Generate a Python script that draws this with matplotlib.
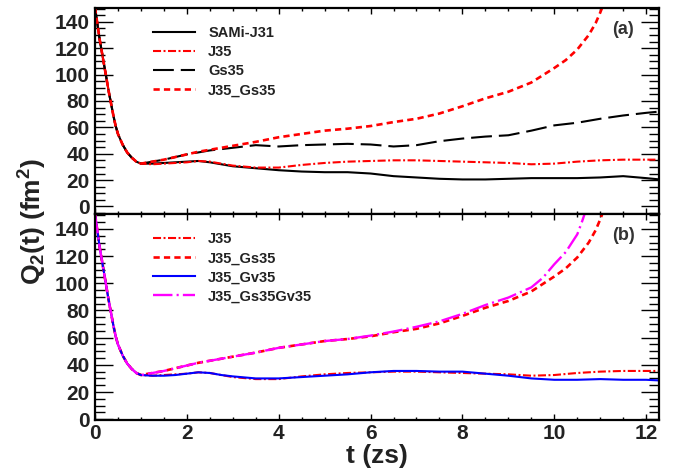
import matplotlib

matplotlib.use("Agg")
import matplotlib.pyplot as plt
from matplotlib.ticker import MultipleLocator

plt.rcParams["font.family"] = ["Liberation Sans", "DejaVu Sans"]
plt.rcParams["font.weight"] = "bold"
plt.rcParams["mathtext.fontset"] = "custom"
plt.rcParams["mathtext.rm"] = "Liberation Sans:bold"
plt.rcParams["mathtext.it"] = "Liberation Sans:bold"
plt.rcParams["mathtext.bf"] = "Liberation Sans:bold"
plt.rcParams["lines.scale_dashes"] = False

# quadrupole moment Q2(t) in fm^2 against time in zs
t_early = [0.0, 0.05, 0.1, 0.15, 0.2, 0.25, 0.3, 0.35, 0.4, 0.45, 0.5,
           0.6, 0.7, 0.8, 0.9, 1.0]
q_early = [151, 139, 127, 117, 107, 97, 87, 78, 69, 61, 55,
           47, 41, 37, 34, 32.5]

t_late = [1.25, 1.5, 1.75, 2.0, 2.25, 2.5, 2.75, 3.0, 3.5, 4.0, 4.5, 5.0,
          5.5, 6.0, 6.5, 7.0, 7.5, 8.0, 8.5, 9.0, 9.5, 10.0, 10.5, 11.0,
          11.5, 12.0, 12.3]
q_sami_j31 = [32.5, 33, 33.5, 34, 34.5, 33.5, 32, 30.5, 29, 27.5, 26.5, 26,
              26, 25, 23, 22, 21, 20.5, 20.5, 21, 21.5, 21.5, 21.5, 22,
              23, 21.5, 20.5]
q_j35 = [32, 32.5, 33, 33.5, 34.5, 34, 32.5, 31, 29.5, 29.5, 31.5, 33,
         34, 34.5, 35, 35, 34.5, 34, 33.5, 33, 32, 32.5, 34, 35,
         35.5, 35.5, 35.5]
q_gs35 = [34, 35.5, 37.5, 39.5, 41, 42.5, 43.5, 44.5, 46.5, 45.5, 46.5, 47,
          47.5, 47, 45.5, 46.5, 49.5, 51.5, 53, 54, 57.5, 61.5, 63.5, 66.5,
          69, 71, 72]
q_j35_gv35 = [32, 32, 32.5, 33.5, 34.5, 34, 32.5, 31.5, 30, 30, 31, 32,
              33, 34.5, 35.5, 35.5, 35, 35, 33.5, 32, 30, 29, 29, 29.5,
              29, 29, 28.5]

t_j35_gs35 = [1.25, 1.5, 1.75, 2.0, 2.25, 2.5, 2.75, 3.0, 3.5, 4.0, 4.5,
              5.0, 5.5, 6.0, 6.5, 7.0, 7.5, 8.0, 8.5, 9.0, 9.5, 10.0,
              10.25, 10.5, 10.75, 10.9, 11.0, 11.1]
q_j35_gs35 = [34, 35.5, 37.5, 39.5, 41.5, 43, 44.5, 46, 49, 52.5, 55,
              57.5, 59, 61, 64, 66.5, 70.5, 76, 82, 87, 94, 105,
              111, 119, 130, 139, 147, 156]

t_j35_gs35gv35 = [1.25, 1.5, 1.75, 2.0, 2.25, 2.5, 2.75, 3.0, 3.5, 4.0, 4.5,
                  5.0, 5.5, 6.0, 6.5, 7.0, 7.5, 8.0, 8.5, 9.0, 9.5, 9.75,
                  10.0, 10.25, 10.5, 10.6, 10.7]
q_j35_gs35gv35 = [34, 35.5, 37.5, 39.5, 41.5, 43, 44.5, 46, 49, 52.5, 55,
                  57.5, 59, 61.5, 64.5, 68, 72, 77.5, 84, 89.5, 97, 104,
                  114, 123, 136, 145, 155]

TEXT = "#222222"
RED = "#ff0000"
MAGENTA = "#ff00ff"
BLUE = "#0000ff"

styles = {
    "SAMi-J31": dict(color="black", lw=1.5, ls="-"),
    "J35": dict(color=RED, lw=1.5, ls=(0, (5.8, 1.8, 1.4, 1.8))),
    "Gs35": dict(color="black", lw=1.5, ls=(0, (15, 5))),
    "J35_Gs35": dict(color=RED, lw=1.9, ls=(0, (4.5, 3))),
    "J35_Gv35": dict(color=BLUE, lw=1.5, ls="-"),
    "J35_Gs35Gv35": dict(color=MAGENTA, lw=1.7, ls=(0, (14, 3, 1.5, 3))),
}


def series(t_tail, q_tail):
    return t_early + t_tail, q_early + q_tail


def style_axes(ax, ylim):
    ax.set_xlim(0, 12.28)
    ax.set_ylim(*ylim)
    ax.xaxis.set_major_locator(MultipleLocator(2))
    ax.xaxis.set_minor_locator(MultipleLocator(0.5))
    ax.yaxis.set_major_locator(MultipleLocator(20))
    ax.yaxis.set_minor_locator(MultipleLocator(5))
    ax.tick_params(axis="both", which="both", direction="in",
                   top=True, right=True, colors="black", labelcolor=TEXT)
    ax.tick_params(axis="x", which="major", length=4.5, width=1.0,
                   labelsize=15, pad=3)
    ax.tick_params(axis="x", which="minor", length=2.2, width=1.0)
    ax.tick_params(axis="y", which="major", length=13, width=1.0,
                   labelsize=15, pad=4)
    ax.tick_params(axis="y", which="minor", length=7, width=1.0)
    for spine in ax.spines.values():
        spine.set_linewidth(1.6)
    for lab in ax.get_xticklabels() + ax.get_yticklabels():
        lab.set_fontweight("bold")


fig = plt.figure(figsize=(6.89, 4.68), dpi=100)
left, width, height = 95 / 689, 564 / 689, 206 / 468
ax_a = fig.add_axes([left, (468 - 214) / 468, width, height])
ax_b = fig.add_axes([left, (468 - 420) / 468, width, height])

# panel (a)
for name, (tt, qq) in [
    ("SAMi-J31", series(t_late, q_sami_j31)),
    ("J35", series(t_late, q_j35)),
    ("Gs35", series(t_late, q_gs35)),
    ("J35_Gs35", series(t_j35_gs35, q_j35_gs35)),
]:
    ax_a.plot(tt, qq, label=name, **styles[name])

# panel (b)
for name, (tt, qq) in [
    ("J35", series(t_late, q_j35)),
    ("J35_Gs35", series(t_j35_gs35, q_j35_gs35)),
    ("J35_Gv35", series(t_late, q_j35_gv35)),
    ("J35_Gs35Gv35", series(t_j35_gs35gv35, q_j35_gs35gv35)),
]:
    ax_b.plot(tt, qq, label=name, **styles[name])

style_axes(ax_a, (-5.7, 150.5))
style_axes(ax_b, (-0.6, 151))
ax_a.tick_params(axis="x", labelbottom=False)

for ax, tag in [(ax_a, "(a)"), (ax_b, "(b)")]:
    ax.legend(loc="upper left", bbox_to_anchor=(0.092, 0.94), frameon=False,
              handlelength=2.9, handletextpad=0.9, labelspacing=0.35,
              prop=dict(family="Liberation Sans", weight="bold", size=10.5),
              labelcolor=TEXT, borderaxespad=0)
    ax.text(0.937, 0.895, tag, transform=ax.transAxes, ha="center",
            va="center", fontsize=13, fontweight="bold", color="#333333")

fig.text(377 / 689, 1 - 456 / 468, "t (zs)", ha="center", va="center",
         fontsize=19, fontweight="bold", color=TEXT)
fig.text(33 / 689, 1 - 221 / 468, r"Q$_{2}$(t) (fm$^{2}$)", ha="center",
         va="center", rotation=90, fontsize=19, fontweight="bold", color=TEXT)

fig.savefig("out.png", dpi=100)
